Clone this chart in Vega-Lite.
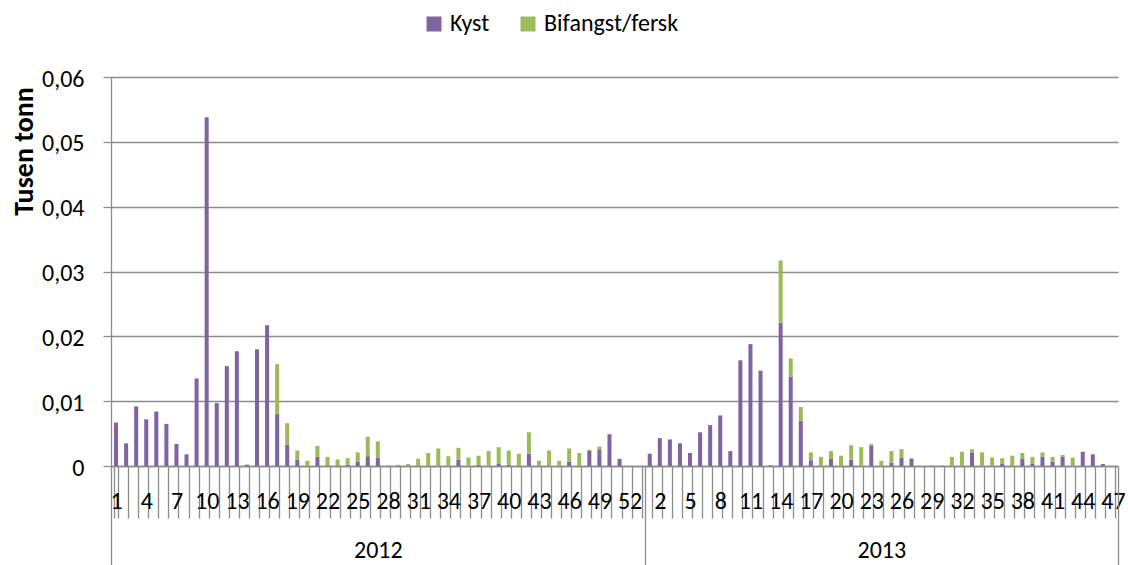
{
  "$schema": "https://vega.github.io/schema/vega-lite/v6.json",
  "width": 1007,
  "height": 389,
  "autosize": {"type": "none"},
  "padding": {"left": 111, "top": 77, "right": 10, "bottom": 99},
  "background": "white",
  "config": {
    "font": "Carlito, Calibri, Lato, sans-serif",
    "view": {"stroke": null},
    "axis": {"labelFont": "Carlito, Calibri, Lato, sans-serif", "titleFont": "Carlito, Calibri, Lato, sans-serif", "labelColor": "#000", "titleColor": "#000"},
    "legend": {"labelFont": "Carlito, Calibri, Lato, sans-serif", "labelColor": "#000"}
  },
  "data": {
    "values": [
      {"i":0,"year":2012,"week":1,"Kyst":0.0067,"Bifangst/fersk":0},
      {"i":1,"year":2012,"week":2,"Kyst":0.0035,"Bifangst/fersk":0},
      {"i":2,"year":2012,"week":3,"Kyst":0.0092,"Bifangst/fersk":0},
      {"i":3,"year":2012,"week":4,"Kyst":0.0072,"Bifangst/fersk":0},
      {"i":4,"year":2012,"week":5,"Kyst":0.0084,"Bifangst/fersk":0},
      {"i":5,"year":2012,"week":6,"Kyst":0.0065,"Bifangst/fersk":0},
      {"i":6,"year":2012,"week":7,"Kyst":0.0034,"Bifangst/fersk":0},
      {"i":7,"year":2012,"week":8,"Kyst":0.0018,"Bifangst/fersk":0},
      {"i":8,"year":2012,"week":9,"Kyst":0.0135,"Bifangst/fersk":0},
      {"i":9,"year":2012,"week":10,"Kyst":0.0538,"Bifangst/fersk":0},
      {"i":10,"year":2012,"week":11,"Kyst":0.0097,"Bifangst/fersk":0},
      {"i":11,"year":2012,"week":12,"Kyst":0.0154,"Bifangst/fersk":0},
      {"i":12,"year":2012,"week":13,"Kyst":0.0177,"Bifangst/fersk":0},
      {"i":13,"year":2012,"week":14,"Kyst":0.0002,"Bifangst/fersk":0},
      {"i":14,"year":2012,"week":15,"Kyst":0.0180,"Bifangst/fersk":0},
      {"i":15,"year":2012,"week":16,"Kyst":0.0217,"Bifangst/fersk":0},
      {"i":16,"year":2012,"week":17,"Kyst":0.0080,"Bifangst/fersk":0.0077},
      {"i":17,"year":2012,"week":18,"Kyst":0.0033,"Bifangst/fersk":0.0033},
      {"i":18,"year":2012,"week":19,"Kyst":0.0010,"Bifangst/fersk":0.0014},
      {"i":19,"year":2012,"week":20,"Kyst":0,"Bifangst/fersk":0.0008},
      {"i":20,"year":2012,"week":21,"Kyst":0.0014,"Bifangst/fersk":0.0017},
      {"i":21,"year":2012,"week":22,"Kyst":0.0001,"Bifangst/fersk":0.0013},
      {"i":22,"year":2012,"week":23,"Kyst":0.0001,"Bifangst/fersk":0.0009},
      {"i":23,"year":2012,"week":24,"Kyst":0.0002,"Bifangst/fersk":0.0010},
      {"i":24,"year":2012,"week":25,"Kyst":0.0007,"Bifangst/fersk":0.0014},
      {"i":25,"year":2012,"week":26,"Kyst":0.0015,"Bifangst/fersk":0.0030},
      {"i":26,"year":2012,"week":27,"Kyst":0.0013,"Bifangst/fersk":0.0025},
      {"i":27,"year":2012,"week":28,"Kyst":0,"Bifangst/fersk":0.0001},
      {"i":28,"year":2012,"week":29,"Kyst":0,"Bifangst/fersk":0.0002},
      {"i":29,"year":2012,"week":30,"Kyst":0,"Bifangst/fersk":0.0003},
      {"i":30,"year":2012,"week":31,"Kyst":0,"Bifangst/fersk":0.0011},
      {"i":31,"year":2012,"week":32,"Kyst":0,"Bifangst/fersk":0.0020},
      {"i":32,"year":2012,"week":33,"Kyst":0,"Bifangst/fersk":0.0027},
      {"i":33,"year":2012,"week":34,"Kyst":0,"Bifangst/fersk":0.0015},
      {"i":34,"year":2012,"week":35,"Kyst":0.0010,"Bifangst/fersk":0.0018},
      {"i":35,"year":2012,"week":36,"Kyst":0,"Bifangst/fersk":0.0013},
      {"i":36,"year":2012,"week":37,"Kyst":0.0002,"Bifangst/fersk":0.0014},
      {"i":37,"year":2012,"week":38,"Kyst":0,"Bifangst/fersk":0.0023},
      {"i":38,"year":2012,"week":39,"Kyst":0.0004,"Bifangst/fersk":0.0025},
      {"i":39,"year":2012,"week":40,"Kyst":0.0002,"Bifangst/fersk":0.0022},
      {"i":40,"year":2012,"week":41,"Kyst":0,"Bifangst/fersk":0.0019},
      {"i":41,"year":2012,"week":42,"Kyst":0.0019,"Bifangst/fersk":0.0033},
      {"i":42,"year":2012,"week":43,"Kyst":0,"Bifangst/fersk":0.0008},
      {"i":43,"year":2012,"week":44,"Kyst":0,"Bifangst/fersk":0.0024},
      {"i":44,"year":2012,"week":45,"Kyst":0,"Bifangst/fersk":0.0008},
      {"i":45,"year":2012,"week":46,"Kyst":0.0007,"Bifangst/fersk":0.0020},
      {"i":46,"year":2012,"week":47,"Kyst":0,"Bifangst/fersk":0.0020},
      {"i":47,"year":2012,"week":48,"Kyst":0.0023,"Bifangst/fersk":0.0002},
      {"i":48,"year":2012,"week":49,"Kyst":0.0026,"Bifangst/fersk":0.0004},
      {"i":49,"year":2012,"week":50,"Kyst":0.0049,"Bifangst/fersk":0},
      {"i":50,"year":2012,"week":51,"Kyst":0.0011,"Bifangst/fersk":0},
      {"i":51,"year":2012,"week":52,"Kyst":0,"Bifangst/fersk":0},
      {"i":52,"year":2012,"week":53,"Kyst":0,"Bifangst/fersk":0},
      {"i":53,"year":2013,"week":1,"Kyst":0.0019,"Bifangst/fersk":0},
      {"i":54,"year":2013,"week":2,"Kyst":0.0043,"Bifangst/fersk":0},
      {"i":55,"year":2013,"week":3,"Kyst":0.0041,"Bifangst/fersk":0},
      {"i":56,"year":2013,"week":4,"Kyst":0.0035,"Bifangst/fersk":0},
      {"i":57,"year":2013,"week":5,"Kyst":0.0020,"Bifangst/fersk":0},
      {"i":58,"year":2013,"week":6,"Kyst":0.0052,"Bifangst/fersk":0},
      {"i":59,"year":2013,"week":7,"Kyst":0.0063,"Bifangst/fersk":0},
      {"i":60,"year":2013,"week":8,"Kyst":0.0078,"Bifangst/fersk":0},
      {"i":61,"year":2013,"week":9,"Kyst":0.0023,"Bifangst/fersk":0},
      {"i":62,"year":2013,"week":10,"Kyst":0.0163,"Bifangst/fersk":0},
      {"i":63,"year":2013,"week":11,"Kyst":0.0188,"Bifangst/fersk":0},
      {"i":64,"year":2013,"week":12,"Kyst":0.0147,"Bifangst/fersk":0},
      {"i":65,"year":2013,"week":13,"Kyst":0.0001,"Bifangst/fersk":0},
      {"i":66,"year":2013,"week":14,"Kyst":0.0221,"Bifangst/fersk":0.0096},
      {"i":67,"year":2013,"week":15,"Kyst":0.0138,"Bifangst/fersk":0.0028},
      {"i":68,"year":2013,"week":16,"Kyst":0.0070,"Bifangst/fersk":0.0021},
      {"i":69,"year":2013,"week":17,"Kyst":0.0009,"Bifangst/fersk":0.0012},
      {"i":70,"year":2013,"week":18,"Kyst":0,"Bifangst/fersk":0.0014},
      {"i":71,"year":2013,"week":19,"Kyst":0.0011,"Bifangst/fersk":0.0012},
      {"i":72,"year":2013,"week":20,"Kyst":0,"Bifangst/fersk":0.0016},
      {"i":73,"year":2013,"week":21,"Kyst":0.0010,"Bifangst/fersk":0.0022},
      {"i":74,"year":2013,"week":22,"Kyst":0,"Bifangst/fersk":0.0029},
      {"i":75,"year":2013,"week":23,"Kyst":0.0031,"Bifangst/fersk":0.0003},
      {"i":76,"year":2013,"week":24,"Kyst":0,"Bifangst/fersk":0.0008},
      {"i":77,"year":2013,"week":25,"Kyst":0.0005,"Bifangst/fersk":0.0018},
      {"i":78,"year":2013,"week":26,"Kyst":0.0013,"Bifangst/fersk":0.0013},
      {"i":79,"year":2013,"week":27,"Kyst":0.0011,"Bifangst/fersk":0.0001},
      {"i":80,"year":2013,"week":28,"Kyst":0,"Bifangst/fersk":0},
      {"i":81,"year":2013,"week":29,"Kyst":0,"Bifangst/fersk":0.0001},
      {"i":82,"year":2013,"week":30,"Kyst":0,"Bifangst/fersk":0.0001},
      {"i":83,"year":2013,"week":31,"Kyst":0,"Bifangst/fersk":0.0014},
      {"i":84,"year":2013,"week":32,"Kyst":0,"Bifangst/fersk":0.0022},
      {"i":85,"year":2013,"week":33,"Kyst":0.0021,"Bifangst/fersk":0.0005},
      {"i":86,"year":2013,"week":34,"Kyst":0,"Bifangst/fersk":0.0021},
      {"i":87,"year":2013,"week":35,"Kyst":0,"Bifangst/fersk":0.0013},
      {"i":88,"year":2013,"week":36,"Kyst":0.0004,"Bifangst/fersk":0.0008},
      {"i":89,"year":2013,"week":37,"Kyst":0,"Bifangst/fersk":0.0016},
      {"i":90,"year":2013,"week":38,"Kyst":0.0011,"Bifangst/fersk":0.0009},
      {"i":91,"year":2013,"week":39,"Kyst":0.0004,"Bifangst/fersk":0.0010},
      {"i":92,"year":2013,"week":40,"Kyst":0.0014,"Bifangst/fersk":0.0007},
      {"i":93,"year":2013,"week":41,"Kyst":0.0007,"Bifangst/fersk":0.0007},
      {"i":94,"year":2013,"week":42,"Kyst":0.0014,"Bifangst/fersk":0.0003},
      {"i":95,"year":2013,"week":43,"Kyst":0,"Bifangst/fersk":0.0013},
      {"i":96,"year":2013,"week":44,"Kyst":0.0022,"Bifangst/fersk":0},
      {"i":97,"year":2013,"week":45,"Kyst":0.0018,"Bifangst/fersk":0},
      {"i":98,"year":2013,"week":46,"Kyst":0.0003,"Bifangst/fersk":0},
      {"i":99,"year":2013,"week":47,"Kyst":0,"Bifangst/fersk":0}
    ]
  },
  "layer": [
    {
      "transform": [{"fold": ["Kyst", "Bifangst/fersk"], "as": ["type", "value"]}],
      "mark": {"type": "bar"},
      "encoding": {
        "x": {
          "field": "i",
          "type": "ordinal",
          "scale": {"paddingInner": 0.6, "paddingOuter": 0.3},
          "axis": {
            "title": null,
            "orient": "bottom",
            "tickBand": "extent",
            "tickSize": 52,
            "tickColor": "#8c8c8c",
            "tickWidth": 1.3,
            "domainColor": "#8c8c8c",
            "domainWidth": 1.3,
            "labelAngle": 0,
            "labelOverlap": false,
            "labelFontSize": 24,
            "labelPadding": -29,
            "labelExpr": "(datum.value % 3 == 0) ? ('' + (datum.value < 53 ? datum.value + 1 : datum.value - 52)) : ''"
          }
        },
        "y": {
          "field": "value",
          "type": "quantitative",
          "stack": "zero",
          "scale": {"domain": [0, 0.06], "nice": false},
          "axis": {
            "title": "Tusen tonn",
            "titleFontSize": 28,
            "titleFontWeight": "bold",
            "titlePadding": 3,
            "titleY": 74,
            "values": [0, 0.01, 0.02, 0.03, 0.04, 0.05, 0.06],
            "labelExpr": "datum.value == 0 ? '0' : replace(format(datum.value, '.2f'), '.', ',')",
            "labelFontSize": 24,
            "labelPadding": 19,
            "labelOffset": 2,
            "tickSize": 8,
            "tickColor": "#8c8c8c",
            "tickWidth": 1.3,
            "domainColor": "#8c8c8c",
            "domainWidth": 1.3,
            "gridColor": "#8c8c8c",
            "gridWidth": 1.3
          }
        },
        "color": {
          "field": "type",
          "type": "nominal",
          "scale": {"domain": ["Kyst", "Bifangst/fersk"], "range": ["#8064A2", "#9BBB59"]},
          "legend": {
            "title": null,
            "orient": "none",
            "direction": "horizontal",
            "legendX": 311,
            "legendY": -65,
            "padding": 0,
            "symbolType": "square",
            "symbolSize": 225,
            "symbolStrokeWidth": 0,
            "labelFontSize": 24,
            "labelOffset": 4,
            "columnPadding": 26
          }
        },
        "order": {"field": "type", "sort": "descending"}
      }
    },
    {
      "mark": {"type": "rule", "opacity": 0},
      "encoding": {
        "x": {
          "field": "i",
          "type": "quantitative",
          "scale": {"domain": [0, 100], "nice": false, "zero": false},
          "axis": {
            "title": null,
            "orient": "bottom",
            "values": [0, 26.5, 53, 76.5, 100],
            "grid": false,
            "domain": false,
            "tickSize": 99,
            "tickColor": "#8c8c8c",
            "tickWidth": 1.3,
            "tickOpacity": {"condition": {"test": "datum.value == 26.5 || datum.value == 76.5", "value": 0}, "value": 1},
            "labelFlush": false,
            "labelOverlap": false,
            "labelFontSize": 24,
            "labelPadding": -27,
            "labelExpr": "datum.value == 26.5 ? '2012' : (datum.value == 76.5 ? '2013' : '')"
          }
        }
      }
    }
  ],
  "resolve": {"scale": {"x": "independent"}, "axis": {"x": "independent"}}
}
